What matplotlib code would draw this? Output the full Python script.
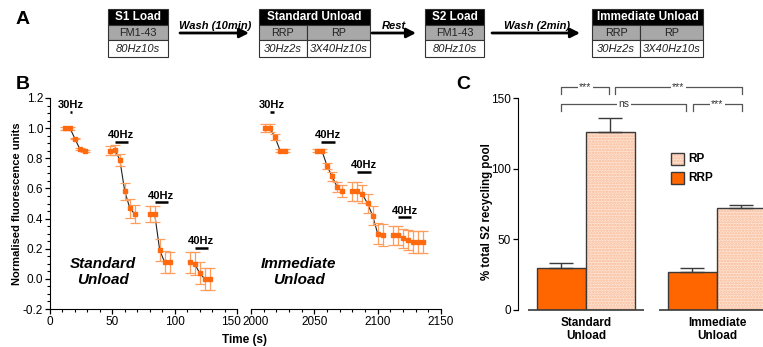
import numpy as np
import matplotlib
matplotlib.use("Agg")
import matplotlib.pyplot as plt
from matplotlib.patches import Rectangle
from matplotlib.ticker import MultipleLocator
from matplotlib.transforms import ScaledTranslation

plt.rcParams['font.family'] = ['Liberation Sans', 'DejaVu Sans']
plt.rcParams['hatch.linewidth'] = 1.2

# ---------------- data ----------------
# Panel B: Standard unload (time s, normalised fluorescence, SEM), one list per stimulus segment
std_t = [[12, 16, 20, 24, 28],
         [48, 52, 56, 60, 64, 68],
         [80, 84, 88, 92, 96],
         [112, 116, 120, 124, 128]]
std_y = [[1.0, 1.0, 0.93, 0.86, 0.85],
         [0.85, 0.855, 0.79, 0.58, 0.47, 0.43],
         [0.43, 0.43, 0.19, 0.11, 0.11],
         [0.11, 0.10, 0.04, 0.0, 0.0]]
std_e = [[0.01, 0.01, 0.005, 0.005, 0.005],
         [0.03, 0.03, 0.04, 0.055, 0.063, 0.06],
         [0.055, 0.055, 0.072, 0.072, 0.07],
         [0.07, 0.075, 0.074, 0.075, 0.075]]
# Immediate unload
imm_t = [[2011, 2015, 2019, 2023, 2027],
         [2052, 2056, 2060, 2064, 2068, 2072],
         [2080, 2084, 2088, 2092, 2096, 2100, 2104],
         [2112, 2116, 2120, 2124, 2128, 2132, 2136]]
imm_y = [[1.0, 1.0, 0.94, 0.85, 0.85],
         [0.85, 0.85, 0.75, 0.68, 0.61, 0.58],
         [0.58, 0.58, 0.56, 0.50, 0.42, 0.30, 0.29],
         [0.29, 0.29, 0.27, 0.255, 0.245, 0.245, 0.245]]
imm_e = [[0.028, 0.028, 0.02, 0.01, 0.01],
         [0.01, 0.01, 0.02, 0.03, 0.035, 0.04],
         [0.063, 0.063, 0.06, 0.06, 0.065, 0.072, 0.072],
         [0.063, 0.063, 0.063, 0.066, 0.072, 0.072, 0.072]]
# stimulus bars: (start, end, y, label)
std_stim = [(16, 18, 1.107, '30Hz'), (52, 62.5, 0.91, '40Hz'),
            (84, 94.5, 0.507, '40Hz'), (116, 126.5, 0.205, '40Hz')]
imm_stim = [(2015, 2018, 1.107, '30Hz'), (2055.5, 2066, 0.91, '40Hz'),
            (2084, 2094.5, 0.707, '40Hz'), (2116, 2126.5, 0.408, '40Hz')]

# Panel C
groups = ['Standard\nUnload', 'Immediate\nUnload']
rrp_mean = [29.5, 27.2]
rrp_err = [4.0, 2.3]
rp_mean = [125.9, 72.5]
rp_err = [9.9, 2.1]
# significance brackets: (x1, x2, y, label) in bar-axis units
brackets = [(-0.187, 0.176, 158, '***'), (0.221, 1.19, 158, '***'),
            (-0.187, 0.763, 145.7, 'ns'), (0.815, 1.19, 145.7, '***')]

# ---------------- figure ----------------
W, H = 763, 347
fig = plt.figure(figsize=(W / 100, H / 100), dpi=100)

def fa(x0, y0, x1, y1):
    return [x0 / W, 1 - y1 / H, (x1 - x0) / W, (y1 - y0) / H]

axB1 = fig.add_axes(fa(50, 98, 237, 309))
axB2 = fig.add_axes(fa(251, 98, 441, 309))
axC = fig.add_axes(fa(518, 98.3, 782.5, 310))
ov = fig.add_axes([0, 0, 1, 1])
ov.set_xlim(0, W)
ov.set_ylim(H, 0)
ov.axis('off')

ERR_C = '#ff9d5c'
MK_C = '#ff6a10'
TICK_FS = 8.5

def draw_trace(ax, ts, ys, es, stims):
    for t, y, e in zip(ts, ys, es):
        ax.plot(t, y, color='#222222', lw=0.8, zorder=2)
        ax.errorbar(t, y, yerr=e, fmt='s', ms=2.6, color=MK_C, ecolor=ERR_C,
                    elinewidth=0.9, capsize=3.8, capthick=0.9, mec=MK_C, zorder=3)
    for x0, x1, y, lab in stims:
        ax.plot([x0, x1], [y, y], color='black', lw=1.8, solid_capstyle='butt')
        ax.text((x0 + x1) / 2, y + 0.012, lab, ha='center', va='bottom',
                fontsize=8, fontweight='bold')

for ax in (axB1, axB2):
    ax.set_ylim(-0.2, 1.2)
    ax.patch.set_alpha(0)
    for s in ('top', 'right'):
        ax.spines[s].set_visible(False)
    ax.tick_params(direction='out', labelsize=TICK_FS, length=3.5, width=0.9, pad=1.5)
    ax.tick_params(which='minor', direction='out', length=2, width=0.8)
    ax.xaxis.set_minor_locator(MultipleLocator(10))
    ax.xaxis.set_major_locator(MultipleLocator(50))

axB1.set_xlim(0, 150)
axB2.set_xlim(2000, 2150)
axB1.yaxis.set_minor_locator(MultipleLocator(0.05))
axB1.set_yticks(np.arange(-0.2, 1.21, 0.2))
axB1.set_yticklabels(['-0.2', '0.0', '0.2', '0.4', '0.6', '0.8', '1.0', '1.2'])
axB2.spines['left'].set_visible(False)
axB2.tick_params(axis='y', which='both', left=False, labelleft=False)

draw_trace(axB1, std_t, std_y, std_e, std_stim)
draw_trace(axB2, imm_t, imm_y, imm_e, imm_stim)
axB1.text(42.7, 0.045, 'Standard\nUnload', ha='center', va='center', fontsize=11,
          fontweight='bold', style='italic', linespacing=1.15)
axB2.text(2037.6, 0.045, 'Immediate\nUnload', ha='center', va='center', fontsize=11,
          fontweight='bold', style='italic', linespacing=1.15)
axB1.set_ylabel('Normalised fluorescence units', fontsize=8, fontweight='bold')
axB1.yaxis.set_label_coords(-0.15, 0.5)
fig.text(245 / W, 1 - 340 / H, 'Time (s)', ha='center', va='center', fontsize=8.5,
         fontweight='bold')

# nudge the "150" / "2000" labels apart as in the reference
fig.canvas.draw()
for t in axB1.get_xticklabels():
    if t.get_text() == '150':
        t.set_transform(t.get_transform() + ScaledTranslation(-6 / 100, 0, fig.dpi_scale_trans))
for t in axB2.get_xticklabels():
    if t.get_text() == '2000':
        t.set_transform(t.get_transform() + ScaledTranslation(5 / 100, 0, fig.dpi_scale_trans))

# ---------------- panel C ----------------
x = np.arange(len(groups))
w = 0.374
EDGE = '#3a3a3a'
axC.bar(x - w / 2, rrp_mean, w, color='#ff6600', edgecolor=EDGE, lw=1.0,
        yerr=[np.zeros(2), rrp_err],
        error_kw=dict(ecolor=EDGE, elinewidth=1.0, capsize=8.5, capthick=1.0), zorder=2)
axC.bar(x + w / 2, rp_mean, w, color='#fee4d6', edgecolor='#f9b994', lw=0,
        hatch='......', zorder=2)
axC.bar(x + w / 2, rp_mean, w, fill=False, edgecolor=EDGE, lw=1.0,
        yerr=[np.zeros(2), rp_err],
        error_kw=dict(ecolor=EDGE, elinewidth=1.0, capsize=8.5, capthick=1.0), zorder=3)
axC.set_xlim(-0.519, 1.5)
axC.set_ylim(0, 150)
axC.patch.set_alpha(0)
for s in ('top', 'right', 'bottom'):
    axC.spines[s].set_visible(False)
axC.set_yticks([0, 50, 100, 150])
axC.tick_params(axis='y', direction='out', labelsize=TICK_FS, length=3.5, width=0.9, pad=1.5)
axC.set_xticks(x)
axC.set_xticklabels(groups, fontsize=8.5, fontweight='bold', linespacing=1.15)
axC.tick_params(axis='x', length=0, pad=5)
for xi in x:
    axC.plot([xi - 0.44, xi + 0.44], [0, 0], color=EDGE, lw=1.2, clip_on=False, zorder=4,
             solid_capstyle='butt')
for x1, x2, y, lab in brackets:
    axC.plot([x1, x1, x2, x2], [y - 4.6, y, y, y - 4.6], color='#555555', lw=0.9,
             clip_on=False)
    axC.text((x1 + x2) / 2, y, lab, ha='center', va='center', fontsize=7.5,
             color='#333333', clip_on=False,
             bbox=dict(boxstyle='square,pad=0.15', fc='white', ec='none'))
fig.text(487 / W, 1 - 212 / H, '% total S2 recycling pool', rotation=90, ha='center',
         va='center', fontsize=8.3, fontweight='bold')

# legend
ov.add_patch(Rectangle((671, 153), 13, 12, facecolor='#fee4d6', edgecolor='#f9b994',
                       lw=0, hatch='......'))
ov.add_patch(Rectangle((671, 153), 13, 12, fill=False, edgecolor=EDGE, lw=1.0))
ov.add_patch(Rectangle((671, 171.5), 13, 12, facecolor='#ff6600', edgecolor=EDGE, lw=1.0))
ov.text(688, 159, 'RP', fontsize=8.5, fontweight='bold', va='center', ha='left')
ov.text(688, 177.5, 'RRP', fontsize=8.5, fontweight='bold', va='center', ha='left')

# ---------------- panel A ----------------
def box(x0, x1, header, cols, bottoms):
    y0, y1, y2, y3 = 8.5, 25, 40, 56.5
    ov.add_patch(Rectangle((x0, y0), x1 - x0, y1 - y0, facecolor='black',
                           edgecolor='#333333', lw=0.8))
    ov.text((x0 + x1) / 2, (y0 + y1) / 2 + 0.5, header, color='white', fontsize=8.5,
            fontweight='bold', ha='center', va='center')
    n = len(cols)
    if n == 1:
        edges = [x0, x1]
    else:
        edges = [x0, (x0 + x1) / 2 - 7.5, x1]
    for i in range(n):
        a, b = edges[i], edges[i + 1]
        ov.add_patch(Rectangle((a, y1), b - a, y2 - y1, facecolor='#a8a8a8',
                               edgecolor='#333333', lw=0.8))
        ov.add_patch(Rectangle((a, y2), b - a, y3 - y2, facecolor='white',
                               edgecolor='#333333', lw=0.8))
        ov.text((a + b) / 2, (y1 + y2) / 2 + 0.5, cols[i], fontsize=7.8, ha='center',
                va='center', color='#222222')
        ov.text((a + b) / 2, (y2 + y3) / 2 + 0.5, bottoms[i], fontsize=8, ha='center',
                va='center', style='italic', color='#222222')

def arrow(x0, x1, label, xl):
    ov.annotate('', xy=(x1, 33), xytext=(x0, 33),
                arrowprops=dict(arrowstyle='-|>,head_length=0.55,head_width=0.28',
                                lw=2, color='black', shrinkA=0, shrinkB=0))
    ov.text(xl, 25.5, label, fontsize=8, fontweight='bold', style='italic',
            ha='center', va='center')

box(108, 168, 'S1 Load', ['FM1-43'], ['80Hz10s'])
box(259, 370, 'Standard Unload', ['RRP', 'RP'], ['30Hz2s', '3X40Hz10s'])
box(425, 484, 'S2 Load', ['FM1-43'], ['80Hz10s'])
box(592, 703, 'Immediate Unload', ['RRP', 'RP'], ['30Hz2s', '3X40Hz10s'])
arrow(180, 249, 'Wash (10min)', 215)
arrow(372, 416, 'Rest', 394)
arrow(492, 580, 'Wash (2min)', 537)

for lab, (px, py) in {'A': (23, 19), 'B': (23, 84), 'C': (463, 84)}.items():
    ov.text(px, py, lab, fontsize=14, fontweight='bold', ha='center', va='center')

fig.savefig('out.png', dpi=100)
